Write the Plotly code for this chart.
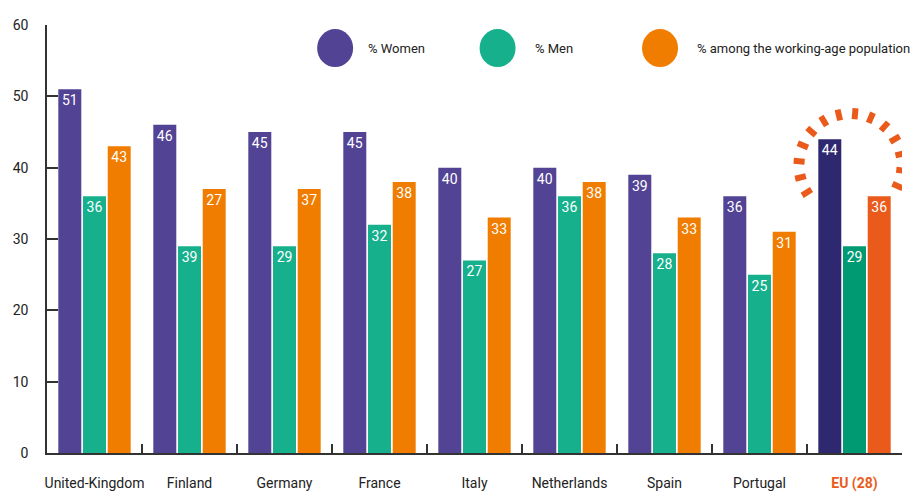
import math
import plotly.graph_objects as go

categories = ["United-Kingdom", "Finland", "Germany", "France", "Italy",
              "Netherlands", "Spain", "Portugal", "EU (28)"]
women = [51, 46, 45, 45, 40, 40, 39, 36, 44]
men = [36, 29, 29, 32, 27, 36, 28, 25, 29]
working_age = [43, 37, 37, 38, 33, 38, 33, 31, 36]
# labels as printed on the bars (the source prints 39/27 for Finland)
women_labels = ["51", "46", "45", "45", "40", "40", "39", "36", "44"]
men_labels = ["36", "39", "29", "32", "27", "36", "28", "25", "29"]
working_labels = ["43", "27", "37", "38", "33", "38", "33", "31", "36"]
y_ticks = [0, 10, 20, 30, 40, 50, 60]
series_names = ["% Women", "% Men", "% among the working-age population"]

FONT = "Roboto, Liberation Sans, sans-serif"
C_W, C_M, C_O = "#524394", "#16b08d", "#f07d00"
C_W_EU, C_M_EU, C_O_EU = "#2e2870", "#009a72", "#e95a1b"

def colors(base, eu):
    return [base] * (len(categories) - 1) + [eu]

fig = go.Figure()
for vals, labs, base, eu, name in [
    (women, women_labels, C_W, C_W_EU, series_names[0]),
    (men, men_labels, C_M, C_M_EU, series_names[1]),
    (working_age, working_labels, C_O, C_O_EU, series_names[2]),
]:
    fig.add_trace(go.Bar(
        x=categories, y=vals, name=name, text=labs,
        textposition="inside", insidetextanchor="end", textangle=0,
        insidetextfont=dict(color="white", size=14, family=FONT),
        marker=dict(color=colors(base, eu), line=dict(width=0)),
        showlegend=False, hoverinfo="x+y+name",
    ))

ticktext = categories[:-1] + ["<b><span style='color:%s'>%s</span></b>" % (C_O_EU, categories[-1])]

fig.update_layout(
    width=923, height=493,
    margin=dict(l=47, r=21, t=25, b=40),
    paper_bgcolor="white", plot_bgcolor="white",
    barmode="group", bargap=0.22, bargroupgap=0.07,
    font=dict(family=FONT, color="#222", size=14),
    uniformtext=dict(minsize=14, mode="show"),
    xaxis=dict(
        tickmode="array", tickvals=categories, ticktext=ticktext, tickangle=0,
        tickson="boundaries", ticks="inside", ticklen=9, tickwidth=1.5, tickcolor="#333",
        showline=True, linecolor="#333", linewidth=1.5, automargin=False,
        showgrid=False, zeroline=False, ticklabelstandoff=16,
        tickfont=dict(size=14, family=FONT, color="#222"),
        range=[-0.5, len(categories) - 0.5],
    ),
    yaxis=dict(
        range=[0, 60], tickvals=y_ticks, ticks="inside", ticklen=11, tickwidth=1.5,
        tickcolor="#333", showline=True, linecolor="#333", linewidth=1.5,
        showgrid=False, zeroline=False, ticklabelstandoff=14, automargin=False,
        tickfont=dict(size=14, family=FONT, color="#222"),
    ),
)

# custom legend: circles + labels
legend_x = [0.337, 0.527, 0.717]
text_x = [0.373, 0.568, 0.758]
legend_cols = [C_W, C_M, C_O]
for lx, tx, col, name in zip(legend_x, text_x, legend_cols, series_names):
    fig.add_shape(type="circle", xref="paper", yref="paper",
                  xsizemode="pixel", ysizemode="pixel", xanchor=lx, yanchor=0.946,
                  x0=-18, x1=18, y0=-19, y1=19,
                  fillcolor=col, line=dict(width=0), layer="above")
    fig.add_annotation(x=tx, y=0.946, xref="paper", yref="paper", text=name,
                       showarrow=False, xanchor="left", yanchor="middle",
                       font=dict(size=13, family=FONT, color="#222"))

# dashed highlight arc around the EU bar group
n_dash = 14
start_deg, end_deg = 212, -24
cx, cy = -4, -26
r_in, r_out = 46, 57
for i in range(n_dash):
    a = math.radians(start_deg + (end_deg - start_deg) * i / (n_dash - 1))
    fig.add_shape(type="line", xref="x", yref="y",
                  xsizemode="pixel", ysizemode="pixel",
                  xanchor=categories[-1], yanchor=women[-1],
                  x0=cx + r_in * math.cos(a), x1=cx + r_out * math.cos(a),
                  y0=cy + r_in * math.sin(a), y1=cy + r_out * math.sin(a),
                  line=dict(color=C_O_EU, width=6))

fig.write_html("out.html", config={"displayModeBar": False},
               post_script="document.body.style.margin='0';document.body.style.overflow='hidden';")
